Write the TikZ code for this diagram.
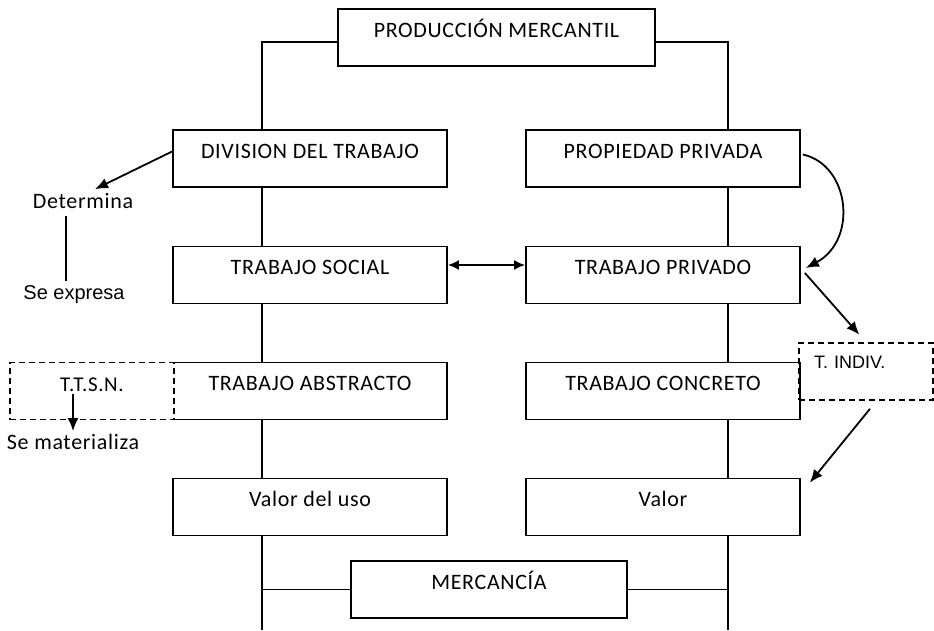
\documentclass[tikz,border=0pt]{standalone}
\usepackage{fontspec}
\setmainfont{Carlito}[LetterSpace=3]
\newfontfamily\arialfont{Liberation Sans}
\usetikzlibrary{arrows.meta,calc}

\begin{document}
\begin{tikzpicture}[x=1pt,y=-1pt,
    caja/.style={draw,line width=1.8pt,fill=white,minimum width=274pt,minimum height=57pt,inner sep=0pt,text height=15pt,text depth=16pt,font=\fontsize{22}{26}\selectfont},
    punteada/.style={draw,dashed,line width=1.6pt,dash pattern=on 6pt off 4pt,minimum height=57pt,inner sep=0pt},
    trazo/.style={line width=1.8pt},
    flecha/.style={line width=1.8pt,-{Latex[length=13pt,width=11pt]}},
    texto/.style={inner sep=1pt,font=\fontsize{22}{26}\selectfont}]
      \useasboundingbox (0,0) rectangle (934,630);

      \node[caja,minimum width=317pt] (prod) at (496.5,37.5) {PRODUCCIÓN MERCANTIL};
      \coordinate (izqA) at (262,42);
      \coordinate (izqB) at (262,630);
      \coordinate (derA) at (728,42);
      \coordinate (derB) at (728,630);
      \draw[trazo] (prod.west |- izqA) -- (izqA) -- (izqB);
      \draw[trazo] (prod.east |- derA) -- (derA) -- (derB);

      \node[caja] (div) at (310,158.5) {DIVISION DEL TRABAJO};
      \node[caja] (prop) at (663,158.5) {PROPIEDAD PRIVADA};
      \node[caja] (social) at (310,275) {TRABAJO SOCIAL};
      \node[caja] (priv) at (663,275) {TRABAJO PRIVADO};
      \node[caja] (abst) at (310,391) {TRABAJO ABSTRACTO};
      \node[caja] (conc) at (663,391) {TRABAJO CONCRETO};
      \node[caja] (uso) at (310,507) {Valor del uso};
      \node[caja] (valor) at (663,507) {Valor};
      \node[caja,minimum width=276pt] (merc) at (489,589.5) {MERCANCÍA};
      \draw[trazo] (merc.west) -- (merc.west -| izqA);
      \draw[trazo] (merc.east) -- (merc.east -| derA);

      \draw[trazo,{Latex[length=11pt,width=10pt]}-{Latex[length=11pt,width=10pt]}] ($(social.east)+(0,-10)$) -- ($(priv.west)+(0,-10)$);

      \node[texto] (det) at (83,201) {Determina};
      \node[inner sep=1pt,font=\arialfont\fontsize{20}{24}\selectfont] (expr) at (74,295) {Se expresa};
      \draw[flecha] ($(div.west)+(0,-7)$) -- ($(det.north)+(12,-3)$);
      \draw[trazo] ($(det.south)+(-17,6)$) -- ($(expr.north)+(-8,-4)$);

      \node[punteada,fill=white,minimum width=164pt,text height=12pt,text depth=12pt,font=\fontsize{21}{25}\selectfont] (ttsn) at (92,391) {T.T.S.N.};
      \node[texto] (mat) at (73,442) {Se materializa};
      \draw[flecha] ($(ttsn.center -| mat.north)+(0,3)$) -- ($(mat.north)+(0,-2)$);

      \node[punteada,minimum width=134pt,text width=104pt,inner xsep=15pt,align=left,text height=13pt,text depth=19pt,font=\arialfont\fontsize{18}{22}\selectfont] (tind) at (866,371.5) {T. INDIV.};
      \draw[flecha] ($(prop.east)+(2,-4)$) .. controls (850,165) and (858,240) .. ($(priv.east)+(5,-7)$);
      \draw[flecha,shorten >=10pt] ($(priv.east)+(4,-2)$) -- (tind.north);
      \draw[flecha] ($(tind.south)+(4,8)$) -- ($(valor.north east)+(9,5)$);
    \end{tikzpicture}
\end{document}
